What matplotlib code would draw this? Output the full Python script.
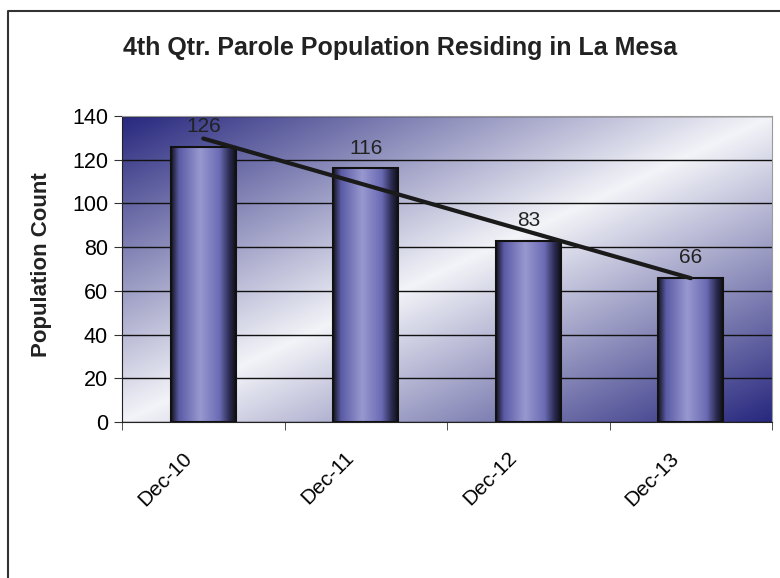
import numpy as np
import matplotlib
matplotlib.use('Agg')
import matplotlib.pyplot as plt
import matplotlib.transforms as mtransforms
from matplotlib.colors import LinearSegmentedColormap
from matplotlib.lines import Line2D

categories = ['Dec-10', 'Dec-11', 'Dec-12', 'Dec-13']
population = [126, 116, 83, 66]
yticks = [0, 20, 40, 60, 80, 100, 120, 140]

plt.rcParams['font.family'] = ['Liberation Sans', 'DejaVu Sans']

fig = plt.figure(figsize=(7.8, 5.78), dpi=100)
W, H = 780, 578
ax = fig.add_axes([122 / W, 1 - 422 / H, 650 / W, 306 / H])

# background: diagonal gradient dark -> light -> dark
bg_cmap = LinearSegmentedColormap.from_list(
    'bg', [(0, '#28287f'), (0.5, '#f3f4f8'), (1, '#28287f')])
u = np.linspace(0, 1, 400)
r = np.linspace(0, 1, 300)
uu, rr = np.meshgrid(u, r)
ax.imshow((uu + rr) / 2, cmap=bg_cmap, vmin=0, vmax=1, aspect='auto',
          extent=[0, 1, 0, 1], transform=ax.transAxes, zorder=0,
          interpolation='bilinear')

x = np.arange(len(categories))
bars = ax.bar(x, population, width=0.4, facecolor='none',
              edgecolor='#111111', linewidth=1.5, zorder=3)

# cylinder shading for each bar
bar_cmap = LinearSegmentedColormap.from_list(
    'bar', [(0, '#15151f'), (0.12, '#5a5aa6'), (0.45, '#9898d0'),
            (0.75, '#6b6bb5'), (0.9, '#2c2c55'), (1, '#111118')])
shade = np.linspace(0, 1, 200).reshape(1, -1)
for b in bars:
    ax.imshow(shade, cmap=bar_cmap, aspect='auto', zorder=2,
              extent=[b.get_x(), b.get_x() + b.get_width(), 0, b.get_height()],
              interpolation='bilinear')

for i, v in enumerate(population):
    ax.annotate(str(v), (x[i], v), xytext=(0, 20), textcoords='offset pixels',
                ha='center', va='center', fontsize=15, color='#222222', zorder=5)

# linear trendline
k, c = np.polyfit(x, population, 1)
ax.plot(x, k * x + c, color='#1a1a1a', linewidth=3, zorder=4,
        solid_capstyle='round')

ax.set_xlim(-0.5, len(categories) - 0.5)
ax.set_ylim(0, 140)
ax.set_yticks(yticks)
ax.set_yticklabels([str(t) for t in yticks], fontsize=15.5)
ax.grid(axis='y', color='#111111', linewidth=1)
for gl in ax.get_ygridlines():
    gl.set_zorder(1)

ax.set_xticks(x)
ax.set_xticklabels(categories, rotation=45, ha='right', fontsize=15)
ax.tick_params(axis='x', which='major', length=0, pad=19)
shift = mtransforms.ScaledTranslation(-8 / 100, 0, fig.dpi_scale_trans)
for lbl in ax.get_xticklabels():
    lbl.set_transform(lbl.get_transform() + shift)
ax.set_xticks(np.arange(len(categories) + 1) - 0.5, minor=True)
ax.tick_params(axis='x', which='minor', length=6, color='#333333', direction='out')
ax.tick_params(axis='y', length=6, color='#333333', direction='out', pad=4)

ax.spines['left'].set_color('#222222')
ax.spines['bottom'].set_color('#222222')
ax.spines['top'].set_color('#9a9a9a')
ax.spines['right'].set_color('#9a9a9a')

fig.text(400 / W, 1 - 48 / H, '4th Qtr. Parole Population Residing in La Mesa',
         ha='center', va='center', fontsize=18, fontweight='bold', color='#222222')
fig.text(42 / W, 1 - 265 / H, 'Population Count', rotation=90,
         ha='center', va='center', fontsize=16, fontweight='bold', color='#222222')

# outer chart border (left and top)
fig.add_artist(Line2D([8 / W, 8 / W, 1.0], [0.0, 1 - 11 / H, 1 - 11 / H],
                      transform=fig.transFigure, color='#333333', linewidth=1.5))

fig.savefig('out.png', dpi=100)
